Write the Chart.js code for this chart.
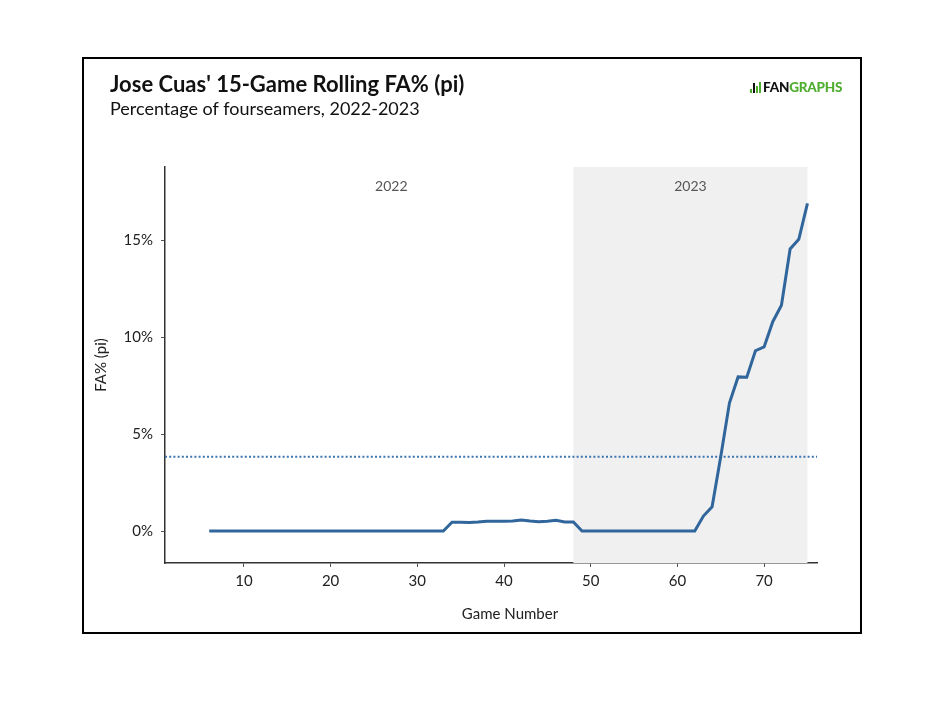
<!DOCTYPE html>
<html>
<head>
<meta charset="utf-8">
<script src="https://cdn.jsdelivr.net/npm/chart.js@4/dist/chart.umd.min.js"></script>
<style>
    body { margin: 0; background: #fff; font-family: 'Lato', sans-serif; }
    #frame { position: absolute; left: 82px; top: 57px; width: 780px; height: 577px; border: 2px solid #000; box-sizing: border-box; pointer-events: none; }
    #title { position: absolute; left: 110px; top: 71px; font-size: 22px; font-weight: bold; color: #111; line-height: 1.2; }
    #subtitle { position: absolute; left: 110px; top: 98px; font-size: 18px; color: #111; line-height: 1.2; }
    #logo { position: absolute; left: 750px; top: 79px; font-size: 13.5px; font-weight: 900; letter-spacing: -0.2px; }
    #logo .fan { color: #111; }
    #logo .graphs { color: #4fae2f; }
    canvas { position: absolute; left: 0; top: 0; }
</style>
</head>
<body>
<canvas id="faChart" width="947" height="710"></canvas>
<div id="frame"></div>
<div id="title">Jose Cuas' 15-Game Rolling FA% (pi)</div>
<div id="subtitle">Percentage of fourseamers, 2022-2023</div>
<div id="logo"><svg width="13" height="11" viewBox="0 0 13 11" style="vertical-align:-1px"><rect x="0" y="7" width="2" height="4" fill="#4fae2f"/><rect x="3" y="1" width="2" height="10" fill="#111"/><rect x="6" y="4" width="2" height="7" fill="#4fae2f"/><rect x="9" y="0" width="2" height="11" fill="#4fae2f"/></svg><span class="fan">FAN</span><span class="graphs">GRAPHS</span></div>

<script>
// ================================================================
// DATA
// ================================================================
const games = [
     6,  7,  8,  9, 10, 11, 12, 13, 14, 15, 16, 17, 18, 19, 20,
    21, 22, 23, 24, 25, 26, 27, 28, 29, 30, 31, 32, 33, 34, 35,
    36, 37, 38, 39, 40, 41, 42, 43, 44, 45, 46, 47, 48, 49, 50,
    51, 52, 53, 54, 55, 56, 57, 58, 59, 60, 61, 62, 63, 64, 65,
    66, 67, 68, 69, 70, 71, 72, 73, 74, 75
];
const faPct = [
    0, 0, 0, 0, 0, 0, 0, 0, 0, 0, 0, 0, 0, 0, 0,
    0, 0, 0, 0, 0, 0, 0, 0, 0, 0, 0, 0, 0, 0.45, 0.45,
    0.44, 0.46, 0.50, 0.50, 0.50, 0.52, 0.57, 0.52, 0.48, 0.50, 0.55, 0.47, 0.47, 0, 0,
    0, 0, 0, 0, 0, 0, 0, 0, 0, 0, 0, 0, 0.77, 1.25, 3.85,
    6.6, 7.95, 7.93, 9.3, 9.5, 10.8, 11.65, 14.55, 15.05, 16.9
];
const leagueAvg    = 3.83;         // dotted reference line
const seasons      = ['2022', '2023'];
const seasonLabelX = [27, 61.5];   // game number where each season label sits
const season2023   = [48, 75];     // shaded range (game numbers)
const xTicks = [10, 20, 30, 40, 50, 60, 70];
const yTicks = [0, 5, 10, 15];

// ================================================================
// PLUGIN: season shading, labels, league average line, x title
// ================================================================
const seasonPlugin = {
    id: 'seasonPlugin',
    beforeDatasetsDraw(chart) {
        const { ctx, chartArea: a, scales: { x, y } } = chart;
        ctx.save();
        const x0 = x.getPixelForValue(season2023[0]), x1 = x.getPixelForValue(season2023[1]);
        ctx.fillStyle = '#f0f0f0';
        ctx.fillRect(x0, a.top, x1 - x0, a.bottom - a.top);

        ctx.fillStyle = '#555';
        ctx.font = '14px Lato';
        ctx.textAlign = 'center';
        ctx.textBaseline = 'middle';
        seasons.forEach((s, i) => ctx.fillText(s, x.getPixelForValue(seasonLabelX[i]), a.top + 19));

        const yAvg = y.getPixelForValue(leagueAvg);
        ctx.strokeStyle = '#3d74ae';
        ctx.lineWidth = 2;
        ctx.setLineDash([2, 2.2]);
        ctx.beginPath(); ctx.moveTo(a.left, yAvg); ctx.lineTo(a.right, yAvg); ctx.stroke();
        ctx.restore();
    },
    afterDraw(chart) {
        const { ctx, chartArea: a } = chart;
        ctx.save();
        ctx.fillStyle = '#222';
        ctx.font = '15px Lato';
        ctx.textAlign = 'center';
        ctx.textBaseline = 'middle';
        // the source centres the axis title a bit right of the plot centre
        ctx.fillText('Game Number', (a.left + a.right) / 2 + 19, a.bottom + 51);
        ctx.restore();
    }
};

// ================================================================
// CHART
// ================================================================
Chart.defaults.font.family = 'Lato';
Chart.defaults.color = '#333';

new Chart(document.getElementById('faChart').getContext('2d'), {
    type: 'line',
    data: {
        datasets: [{
            label: 'FA% (pi)',
            data: games.map((g, i) => ({ x: g, y: faPct[i] })),
            borderColor: '#30669b',
            borderWidth: 3,
            pointRadius: 0,
            tension: 0,
            fill: false
        }]
    },
    options: {
        responsive: false,
        animation: false,
        layout: { padding: { left: 92, top: 167, right: 130, bottom: 86 } },
        plugins: { legend: { display: false }, tooltip: { enabled: false } },
        scales: {
            x: {
                type: 'linear', min: 0.9, max: 76.1,
                afterBuildTicks: s => { s.ticks = xTicks.map(v => ({ value: v })); },
                afterFit: s => { s.height = 61; },
                ticks: { font: { size: 15 }, color: '#222', padding: 5, maxRotation: 0 },
                grid: { display: true, drawOnChartArea: false, drawTicks: true, tickLength: 4, color: '#555' },
                border: { display: true, color: '#333', width: 1.5 },
                title: { display: false }
            },
            y: {
                type: 'linear', min: -1.65, max: 18.78,
                afterBuildTicks: s => { s.ticks = yTicks.map(v => ({ value: v })); },
                afterFit: s => { s.width = 73; },
                ticks: { font: { size: 15 }, color: '#222', padding: 8, callback: v => v + '%' },
                grid: { display: true, drawOnChartArea: false, drawTicks: true, tickLength: 4, color: '#555' },
                border: { display: true, color: '#333', width: 1.5 },
                title: { display: true, text: 'FA% (pi)', font: { size: 15 }, color: '#222', padding: 0 }
            }
        }
    },
    plugins: [seasonPlugin]
});
</script>
</body>
</html>
